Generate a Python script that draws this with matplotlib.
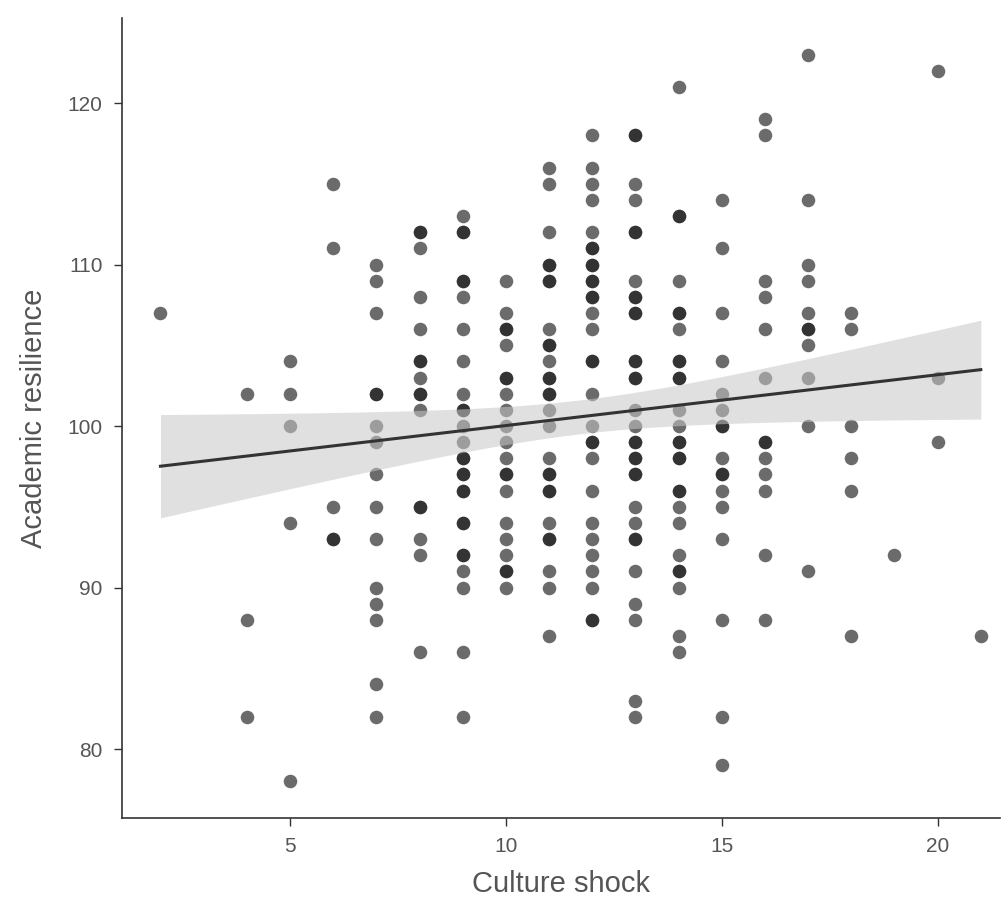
import numpy as np
import matplotlib
matplotlib.use('Agg')
import matplotlib.pyplot as plt

# values per culture-shock score (x) : list of academic resilience scores (y)
x2 = [107]
x4 = [102, 88, 82]
x5 = [104, 102, 100, 94, 78]
x6 = [115, 111, 95, 93, 93]
x7 = [110, 109, 107, 102, 102, 100, 99, 97, 95, 93, 90, 89, 88, 84, 82]
x8 = [112, 112, 111, 108, 106, 104, 104, 103, 102, 102, 101, 95, 95, 93, 92, 86]
x9 = [113, 112, 112, 109, 109, 108, 106, 104, 102, 101, 101, 100, 99, 98, 98,
      97, 97, 96, 96, 94, 94, 92, 92, 91, 90, 86, 82]
x10 = [109, 107, 106, 106, 105, 103, 103, 102, 101, 100, 99, 98, 97, 97, 96,
       94, 93, 92, 91, 91, 90]
x11 = [116, 115, 112, 110, 110, 109, 109, 106, 105, 105, 104, 103, 103, 102, 102,
       101, 100, 98, 97, 97, 96, 96, 94, 93, 93, 91, 90, 87]
x12 = [118, 116, 115, 114, 112, 111, 111, 110, 110, 109, 109, 108, 108, 107, 106,
       104, 104, 102, 100, 99, 99, 98, 96, 94, 93, 92, 91, 90, 88, 88]
x13 = [118, 118, 115, 114, 112, 112, 109, 108, 108, 107, 107, 104, 104, 103, 103,
       101, 100, 99, 99, 98, 98, 97, 97, 95, 94, 93, 93, 91, 89, 88, 83, 82]
x14 = [121, 113, 113, 109, 107, 107, 106, 104, 104, 103, 103, 101, 100, 99, 99,
       98, 98, 96, 96, 95, 94, 92, 91, 91, 90, 87, 86]
x15 = [114, 111, 107, 104, 102, 101, 100, 100, 98, 97, 97, 96, 95, 93, 88, 82, 79]
x16 = [119, 118, 109, 108, 106, 103, 99, 99, 98, 97, 96, 92, 88]
x17 = [123, 114, 110, 109, 107, 106, 106, 105, 103, 100, 91]
x18 = [107, 106, 100, 98, 96, 87]
x19 = [92]
x20 = [122, 103, 99]
x21 = [87]

groups = {2: x2, 4: x4, 5: x5, 6: x6, 7: x7, 8: x8, 9: x9, 10: x10, 11: x11,
          12: x12, 13: x13, 14: x14, 15: x15, 16: x16, 17: x17, 18: x18,
          19: x19, 20: x20, 21: x21}

shock = []
resil = []
for k, v in groups.items():
    shock += [k] * len(v)
    resil += v
shock = np.array(shock, dtype=float)
resil = np.array(resil, dtype=float)

# linear fit with 95% confidence band
n = len(shock)
b, a = np.polyfit(shock, resil, 1)
xs = np.linspace(shock.min(), shock.max(), 100)
fit = a + b * xs
res = resil - (a + b * shock)
s = np.sqrt(np.sum(res ** 2) / (n - 2))
se = s * np.sqrt(1 / n + (xs - shock.mean()) ** 2 / np.sum((shock - shock.mean()) ** 2))
t = 1.968

plt.rcParams['font.family'] = ['Liberation Sans', 'DejaVu Sans']
fig = plt.figure(figsize=(10.02, 9.08), dpi=100)
ax = fig.add_axes([0.1218, 0.0991, 0.876, 0.881])

ax.scatter(shock, resil, s=95, color='#111111', alpha=0.62, linewidths=0, zorder=2)
ax.fill_between(xs, fit - t * se, fit + t * se, color='#c8c8c8', alpha=0.55,
                linewidth=0, zorder=3)
ax.plot(xs, fit, color='#333333', linewidth=2.2, zorder=4)

ax.set_xlim(1.11, 21.44)
ax.set_ylim(75.73, 125.26)
ax.set_xticks([5, 10, 15, 20])
ax.set_yticks([80, 90, 100, 110, 120])
ax.spines['top'].set_visible(False)
ax.spines['right'].set_visible(False)
for sp in ['left', 'bottom']:
    ax.spines[sp].set_color('#333333')
    ax.spines[sp].set_linewidth(1.2)
ax.tick_params(colors='#555555', labelsize=15, length=6, width=1, pad=8)
ax.tick_params(axis='both', color='#333333')
ax.set_xlabel('Culture shock', fontsize=21, color='#555555', labelpad=10)
ax.set_ylabel('Academic resilience', fontsize=21, color='#555555', labelpad=14)

fig.savefig('out.png', dpi=100)
